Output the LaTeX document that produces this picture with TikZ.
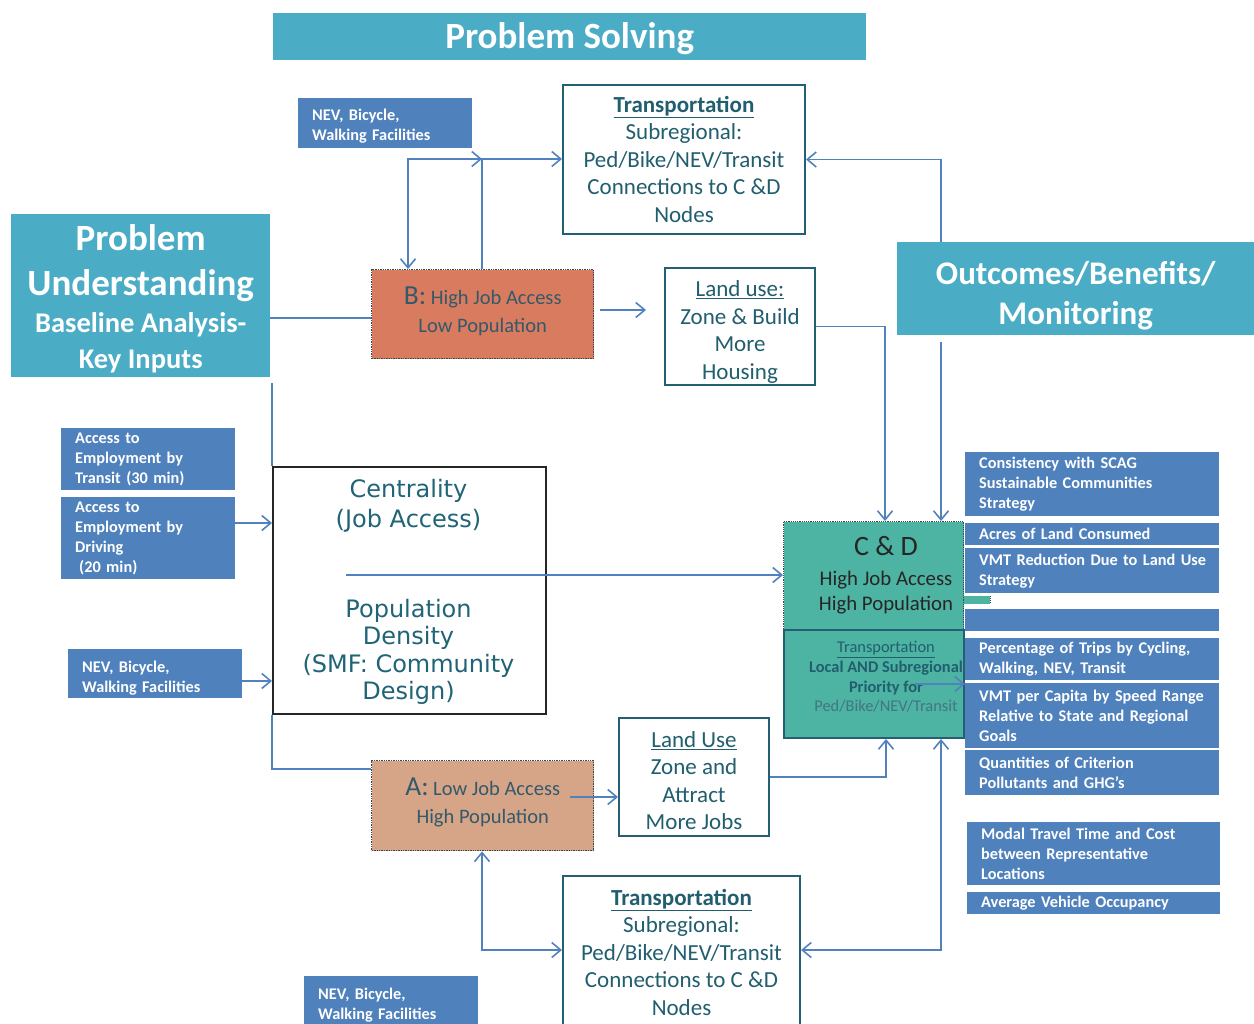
\documentclass[tikz,border=0pt]{standalone}
\usepackage{fontspec}
\setmainfont{Carlito}
\newfontfamily\verd{DejaVu Sans}
\usetikzlibrary{arrows.meta,calc}
\definecolor{hdrc}{HTML}{4BACC6}
\definecolor{bluec}{HTML}{4F81BD}
\definecolor{lnk}{HTML}{5282BE}
\definecolor{tealtxt}{HTML}{215E6E}
\definecolor{tealb}{HTML}{245F73}
\definecolor{bfill}{HTML}{D97B5F}
\definecolor{afill}{HTML}{D6A587}
\definecolor{cdfill}{HTML}{4DB3A2}
\definecolor{abtxt}{HTML}{33596A}
\definecolor{ctxt}{HTML}{1F6477}
\definecolor{dotc}{HTML}{3A4A50}
\tikzset{
  sz/.style 2 args={minimum width=#1pt, minimum height=#2pt},
  hdr/.style={fill=hdrc, text=white, inner sep=0pt, anchor=north west, align=center},
  bb/.style 2 args={fill=bluec, text=white, anchor=north west, inner xsep=14pt, inner ysep=0pt,
     text width=#1pt, minimum height=#2pt, align=left, font=\bfseries\fontsize{16.3}{20}\selectfont},
  tbox/.style={draw=tealb, line width=2pt, fill=white, text=tealtxt, inner sep=0pt,
     anchor=north west, align=center, font=\fontsize{23}{27.5}\selectfont},
  abbox/.style={draw=dotc, densely dotted, line width=1.4pt, text=abtxt, inner sep=0pt,
     anchor=north west, align=center, font=\fontsize{20.5}{28}\selectfont},
  ln/.style={draw=lnk, line width=1.6pt},
  arr/.style={ln, -{Straight Barb[length=9pt,width=15pt,line width=1.6pt]}},
  arrb/.style={ln, {Straight Barb[length=9pt,width=15pt,line width=1.6pt]}-{Straight Barb[length=9pt,width=15pt,line width=1.6pt]}},
}
\begin{document}
\begin{tikzpicture}[x=1pt,y=-1pt]
\useasboundingbox (0,0) rectangle (1254,1024);

% headers
\node[hdr, sz={593}{47}, font=\bfseries\fontsize{37}{40}\selectfont] (ps) at (273,13) {\rule{0pt}{30pt}Problem Solving};
\node[hdr, sz={259}{163}, font=\bfseries\fontsize{28.5}{36}\selectfont] (pu) at (11,214)
  {\rule{0pt}{33pt}{\fontsize{37}{40}\selectfont Problem}\\[9pt]{\fontsize{37}{40}\selectfont Understanding}\\[1pt]Baseline Analysis-\\Key Inputs};
\node[hdr, sz={357}{93}, font=\bfseries\fontsize{33}{40}\selectfont] (out) at (897,242) {\rule{0pt}{38pt}Outcomes/Benefits/\\Monitoring};

% blue input boxes
\node[bb={146}{50}] (nev1) at (298,98) {\rule{0pt}{17pt}NEV, Bicycle,\\Walking Facilities};
\node[bb={146}{62}] (acc1) at (61,428) {Access to\\Employment by\\Transit (30 min)};
\node[bb={146}{82}] (acc2) at (61,497) {Access to\\Employment by\\Driving\\\hspace*{4pt}(20 min)};
\node[bb={146}{49}] (nev2) at (68,649) {\rule{0pt}{21pt}NEV, Bicycle,\\Walking Facilities};
\node[bb={146}{50}] (nev3) at (304,976) {\rule{0pt}{20pt}NEV, Bicycle,\\Walking Facilities};

% C & D (drawn before the list)
\fill[cdfill] (963,596) rectangle (990,604);
\draw[dotc, densely dotted, line width=1pt] (990,596) -- (990,604);
\node[fill=cdfill, draw=dotc, densely dotted, line width=1.2pt, inner sep=0pt, anchor=north west, sz={180}{108}] (cdtop) at (783,521) {};
\node[align=center, text=black!85, font=\fontsize{20.8}{25}\selectfont, inner sep=0pt] (cdttxt) at (886,575)
  {{\fontsize{28}{30}\selectfont C \& D}\\[5pt]High Job Access\\High Population};
\node[fill=cdfill, draw=tealb, line width=2pt, inner sep=0pt, anchor=north west, sz={180}{108}] (cdbot) at (783,629) {};
\node[align=center, text=tealtxt, font=\fontsize{16.4}{19.7}\selectfont, inner sep=0pt] (cdbtxt) at (886,677)
  {\underline{Transportation}\\\textbf{Local AND Subregional}\\\textbf{Priority for}\\{\color{tealtxt!85!white}Ped/Bike/NEV/Transit}};

% right list
\node[bb={226}{64}] (r1) at (965,452) {Consistency with SCAG\\Sustainable Communities\\Strategy};
\node[bb={226}{22}] (r2) at (965,523) {Acres of Land Consumed};
\node[bb={226}{45}] (r3) at (965,548) {\mbox{VMT Reduction Due to Land Use}\\Strategy};
\node[bb={226}{22}] (r4) at (965,609) {};
\node[bb={226}{42}] (r5) at (965,638) {Percentage of Trips by Cycling,\\Walking, NEV, Transit};
\node[bb={226}{65}] (r6) at (965,683) {VMT per Capita by Speed Range\\Relative to State and Regional\\Goals};
\node[bb={226}{45}] (r7) at (965,750) {Quantities of Criterion\\Pollutants and GHG’s};
\node[bb={225}{63}] (r8) at (967,822) {Modal Travel Time and Cost\\between Representative\\Locations};
\node[bb={225}{22}] (r9) at (967,892) {Average Vehicle Occupancy};

% transportation and land use boxes
\node[tbox, sz={242}{149}] (t1) at (562,84)
  {\underline{\textbf{Transportation}}\\Subregional:\\Ped/Bike/NEV/Transit\\Connections to C \&D\\Nodes};
\node[tbox, sz={237}{152}] (t2) at (562,875)
  {\underline{\textbf{Transportation}}\\Subregional:\\Ped/Bike/NEV/Transit\\Connections to C \&D\\Nodes};
\node[tbox, sz={150}{117}] (lu1) at (664,267)
  {\rule{0pt}{27pt}\underline{Land use:}\\Zone \& Build\\More\\Housing};
\node[tbox, sz={150}{118}] (lu2) at (618,717)
  {\rule{0pt}{23pt}\underline{Land Use}\\Zone and\\Attract\\More Jobs};

% A and B
\node[abbox, fill=bfill, sz={222}{89}] (b) at (371,269)
  {{\fontsize{27.5}{28}\selectfont B:} High Job Access\\Low Population\rule[-10pt]{0pt}{1pt}};
\node[abbox, fill=afill, sz={222}{90}] (a) at (371,760)
  {{\fontsize{27.5}{28}\selectfont A:} Low Job Access\\High Population\rule[-10pt]{0pt}{1pt}};

% centrality
\node[draw=black!85, line width=2pt, fill=white, inner sep=0pt, anchor=north west, sz={273}{247}] (cen) at (272,466) {};
\node[text=ctxt, align=center, font=\verd\fontsize{24}{30}\selectfont] (cen1) at (408.5,506) {Centrality\\(Job Access)};
\node[text=ctxt, align=center, font=\verd\fontsize{24}{27.5}\selectfont] (cen2) at (408.5,652) {Population\\Density\\(SMF: Community\\Design)};

% helper coordinates
\coordinate (y318) at (0,318);
\coordinate (pud) at (272,383);
\coordinate (ya) at (0,769);
\coordinate (y525) at (0,523);
\coordinate (y680) at (0,681);
\coordinate (c1) at (346,575);
\coordinate (bj1) at (408,159);
\coordinate (bj2) at (482,159);
\coordinate (xo) at (941,0);
\coordinate (o2) at (941,342);
\coordinate (xl) at (885,0);
\coordinate (bl1) at (600,310);
\coordinate (bl2) at (646,310);
\coordinate (al1) at (570,797);
\coordinate (xl2) at (886,777);
\coordinate (aj) at (482,950);
\coordinate (cj) at (941,950);
\coordinate (cdb1) at (915,684);

% connectors
\draw[ln] (pu.east |- y318) -- (b.west |- y318);
\draw[ln] (pud) -- (pud |- cen.north);
\draw[ln] (cen.south west) |- (a.west |- ya);
\draw[arr] (acc2.east |- y525) -- (cen.west |- y525);
\draw[arr] (nev2.east |- y680) -- (cen.west |- y680);
\draw[arr] (c1) -- (c1 -| cdtop.west);
\draw[arrb] (bj1 |- b.north) -- (bj1) -- (bj2);
\draw[arr] (bj2 |- b.north) -- (bj2) -- (t1.west |- bj2);
\draw[arr] (out.north -| xo) |- (t1.east);
\draw[arr] (o2) -- (o2 |- cdtop.north);
\draw[arr] (lu1.east) -| (xl |- cdtop.north);
\draw[arr] (bl1) -- (bl2);
\draw[arr] (al1) -- (al1 -| lu2.west);
\draw[arr] (lu2.east |- xl2) -- (xl2) -- (xl2 |- cdbot.south);
\draw[arrb] (aj |- a.south) -- (aj) -- (aj -| t2.west);
\draw[arrb] (cj |- cdbot.south) -- (cj) -- (cj -| t2.east);
\draw[arr] (cdb1) -- (cdb1 -| r6.west);
\end{tikzpicture}
\end{document}
